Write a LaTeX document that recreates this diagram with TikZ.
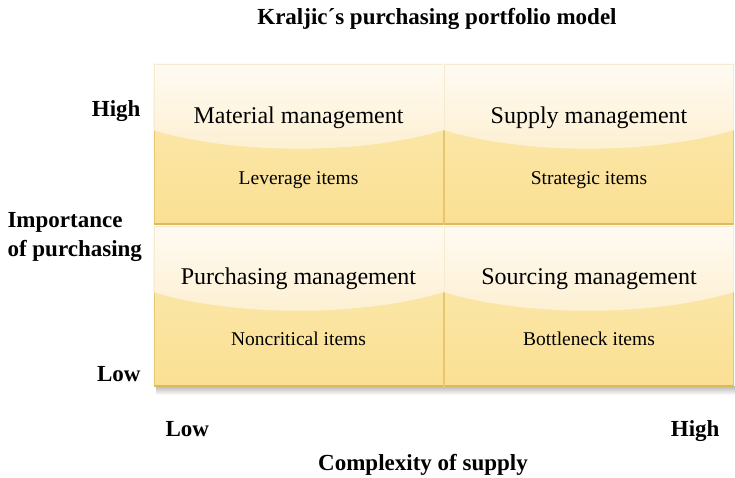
\documentclass[tikz,border=0pt]{standalone}
\usepackage{fontspec}
\setmainfont{Liberation Serif}
\definecolor{glossTop}{HTML}{FFFBF3}
\definecolor{glossBot}{HTML}{FDF0D2}
\definecolor{bodyTop}{HTML}{FCEAB2}
\definecolor{bodyBot}{HTML}{FAE094}
\definecolor{cellEdge}{HTML}{E6C66E}
\definecolor{cellEdgeDark}{HTML}{DDB95E}
\definecolor{glossEdge}{HTML}{F6EBD0}
\newcommand\kcell[4]{%
  \shade[top color=bodyTop, bottom color=bodyBot] (#1,#2) rectangle (#3,#4);
  \draw[cellEdge, line width=0.9pt] (#1,#2) rectangle (#3,#4);
  \draw[cellEdgeDark, line width=1.5pt] (#1,#4) -- (#3,#4);
  \begin{scope}
    \clip ({#1-1},{#2-1}) -- ({#3+1},{#2-1}) -- ({#3+1},{#2+66})
      .. controls ({#1+0.72*(#3-#1)},{#2+91}) and ({#1+0.28*(#3-#1)},{#2+91}) .. ({#1-1},{#2+66}) -- cycle;
    \shade[top color=glossTop, bottom color=glossBot] ({#1-1},{#2-1}) rectangle ({#3+1},{#2+86});
    \draw[glossEdge, line width=0.9pt] (#1,{#2+90}) -- (#1,#2) -- (#3,#2) -- (#3,{#2+90});
  \end{scope}
}
\tikzset{
  head/.style={font=\fontsize{24}{28}\selectfont, anchor=base},
  item/.style={font=\fontsize{19.5}{23}\selectfont, anchor=base},
  axis/.style={font=\fontsize{23}{27}\selectfont\bfseries},
}
\begin{document}
\begin{tikzpicture}[x=1pt,y=-1pt]
\useasboundingbox (0,0) rectangle (735,478);
% shadow
\shade[top color=black!28, bottom color=white] (156,386) rectangle (735,395);
% cells
\kcell{154}{64}{443}{224}
\kcell{444.5}{64}{733}{224}
\kcell{154}{226}{443}{386}
\kcell{444.5}{226}{733}{386}
% title
\node[axis, anchor=base] (title) at (437,25) {Kraljic´s purchasing portfolio model};
% cell texts
\node[head] (h11) at (298.5,124) {Material management};
\node[item] (i11) at (298.5,185) {Leverage items};
\node[head] (h12) at (589,124) {Supply management};
\node[item] (i12) at (589,185) {Strategic items};
\node[head] (h21) at (298.5,284) {Purchasing management};
\node[item] (i21) at (298.5,345) {Noncritical items};
\node[head] (h22) at (589,284) {Sourcing management};
\node[item] (i22) at (589,345) {Bottleneck items};
% vertical axis
\node[axis, anchor=base east] (yhigh) at (144,117) {High};
\node[axis, anchor=base west] (ylab1) at (4,227) {Importance};
\node[axis, anchor=base west] (ylab2) at (4,256) {of purchasing};
\node[axis, anchor=base east] (ylow) at (144,381) {Low};
% horizontal axis
\node[axis, anchor=base west] (xlow) at (162,436) {Low};
\node[axis, anchor=base east] (xhigh) at (723,436) {High};
\node[axis, anchor=base] (xlab) at (423,470) {Complexity of supply};
\end{tikzpicture}
\end{document}
